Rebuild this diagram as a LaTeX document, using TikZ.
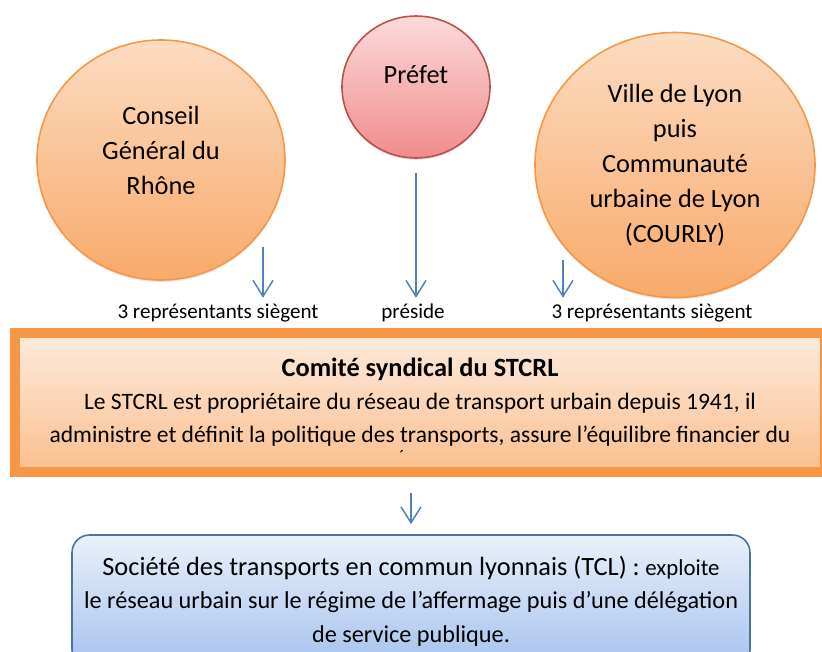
\documentclass[tikz,border=0pt]{standalone}
\usepackage{fontspec}
\setmainfont{Carlito}
\usepackage{tikz}
\usetikzlibrary{shapes.geometric,arrows.meta,shadows}

\definecolor{orgline}{HTML}{F79646}
\definecolor{orgtop}{HTML}{FCDCC2}
\definecolor{orgbot}{HTML}{F8AA6A}
\definecolor{redline}{HTML}{B9504E}
\definecolor{redtop}{HTML}{FCDADA}
\definecolor{redbot}{HTML}{F08C8C}
\definecolor{arrblue}{HTML}{4F81BD}
\definecolor{boxtop}{HTML}{FDEBDD}
\definecolor{boxbot}{HTML}{FABF8E}
\definecolor{tclline}{HTML}{4A72A8}
\definecolor{tcltop}{HTML}{EAF0FA}
\definecolor{tclbot}{HTML}{A6C2EE}

\begin{document}
\begin{tikzpicture}[every node/.style={align=center},
    >={Straight Barb[length=3.2mm,width=4mm]},
    membre/.style={ellipse,draw=orgline,line width=0.9pt,top color=orgtop,bottom color=orgbot,
      drop shadow={opacity=0.2,shadow xshift=0cm,shadow yshift=-0.04cm}},
    prefet/.style={ellipse,draw=redline,line width=0.9pt,top color=redtop,bottom color=redbot,
      drop shadow={opacity=0.2,shadow xshift=0cm,shadow yshift=-0.04cm}},
    cercle/.style={font=\fontsize{15}{19.9}\selectfont},
    petit/.style={font=\fontsize{12}{13}\selectfont},
    lien/.style={->,draw=arrblue,line width=0.85pt}]
  \useasboundingbox (0,0) rectangle (16.44,-13.04);
  \node[membre,minimum width=4.96cm,minimum height=4.8cm] (cg) at (3.22,-3.2) {};
  \node[cercle] (cgt) at (3.22,-3.0) {Conseil\\Général du\\Rhône};
  \node[prefet,minimum width=2.96cm,minimum height=2.84cm] (pref) at (8.32,-1.74) {};
  \node[cercle] (preft) at (8.32,-1.5) {Préfet};
  \node[membre,minimum width=5.6cm,minimum height=5.3cm] (vl) at (13.5,-3.3) {};
  \node[cercle] (vlt) at (13.5,-3.3)
    {Ville de Lyon\\puis\\Communauté\\urbaine de Lyon\\(COURLY)};
  \node[petit] (l1) at (4.36,-6.26) {3 représentants siègent};
  \node[petit] (l2) at (8.26,-6.26) {préside};
  \node[petit] (l3) at (13.04,-6.26) {3 représentants siègent};
  \node[draw=orgline,line width=0.2cm,top color=boxtop,bottom color=boxbot,
    minimum width=16.2cm,minimum height=2.78cm,
    drop shadow={opacity=0.35,shadow xshift=0cm,shadow yshift=-0.08cm},
    font=\fontsize{13.4}{18.8}\selectfont] (com) at (8.4,-8.05)
    {\textbf{\fontsize{15}{18.8}\selectfont Comité syndical du STCRL}\\
     Le STCRL est propriétaire du réseau de transport urbain depuis 1941, il\\
     administre et définit la politique des transports, assure l’équilibre financier du};
  \node[font=\fontsize{10}{10}\selectfont] (acc) at (8.04,-9.12) {´};
  \node[draw=tclline,line width=0.9pt,rounded corners=0.35cm,top color=tcltop,bottom color=tclbot,
    minimum width=13.56cm,minimum height=2.64cm,
    font=\fontsize{13.8}{19}\selectfont] (tcl) at (8.22,-12.02)
    {{\fontsize{15}{19}\selectfont Société des transports en commun lyonnais (TCL) :}
     {\fontsize{13}{19}\selectfont exploite}\\
     le réseau urbain sur le régime de l’affermage puis d’une délégation\\
     de service publique.};
  \coordinate (d1) at (5.26,-4.94);
  \coordinate (d3) at (11.26,-5.2);
  \draw[lien] (d1) -- (d1 |- l1.north);
  \draw[lien,shorten <=0.28cm] (pref.south) -- (pref.south |- l2.north);
  \draw[lien] (d3) -- (d3 |- l3.north);
  \draw[lien,shorten <=0.32cm,shorten >=0.2cm] (com.south -| tcl.north) -- (tcl.north);
\end{tikzpicture}
\end{document}
